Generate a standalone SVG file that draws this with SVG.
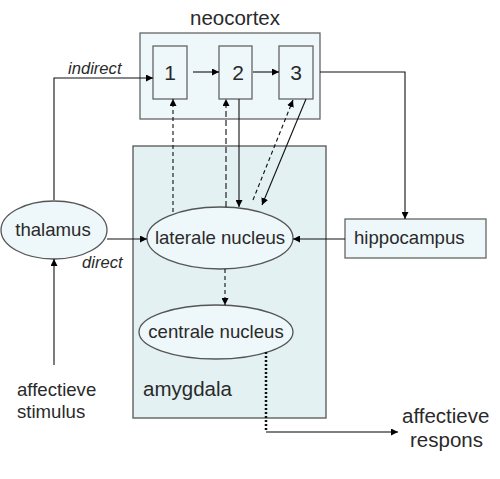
<svg xmlns="http://www.w3.org/2000/svg" width="500" height="479" viewBox="0 0 500 479">
<defs>
<marker id="ah" viewBox="0 0 10 10" refX="10" refY="5" markerWidth="7" markerHeight="7" orient="auto" markerUnits="userSpaceOnUse"><path d="M0,0 L10,5 L0,10 z" fill="#000"/></marker>
</defs>
<style>
text{font-family:"Liberation Sans",Arial,sans-serif;fill:#2a2a2a}
.box{fill:#eef7f9;stroke:#666;stroke-width:1.3}
.amy{fill:#e3f1f3;stroke:#555;stroke-width:1.3}
.ell{fill:#eef7f9;stroke:#555;stroke-width:1.3}
.c{fill:none;stroke:#111;stroke-width:1.1}
.lbl{font-size:18.6px}
.it{font-size:16.6px;font-style:italic}
</style>
<rect width="500" height="479" fill="#fff"/>
<g id="amygdala"><rect class="amy" x="133" y="146" width="193" height="272"/><text x="143" y="396" font-size="20.5">amygdala</text></g>
<g id="neocortex"><rect class="box" x="140" y="33" width="180" height="86"/><text x="235" y="25" font-size="20.5" text-anchor="middle">neocortex</text></g>
<g id="n1"><rect class="box" x="153" y="46" width="34" height="53"/><text x="170" y="80" font-size="21" text-anchor="middle">1</text></g>
<g id="n2"><rect class="box" x="219" y="46" width="33" height="53"/><text x="238" y="80" font-size="21" text-anchor="middle">2</text></g>
<g id="n3"><rect class="box" x="279" y="46" width="34" height="53"/><text x="296" y="80" font-size="21" text-anchor="middle">3</text></g>
<g id="thalamus"><ellipse class="ell" cx="54" cy="230" rx="53" ry="29"/><text class="lbl" x="53" y="236" text-anchor="middle">thalamus</text></g>
<g id="laterale"><ellipse class="ell" cx="220" cy="238" rx="73" ry="31"/><text class="lbl" x="220" y="244" text-anchor="middle">laterale nucleus</text></g>
<g id="centrale"><ellipse class="ell" cx="216" cy="332" rx="77" ry="27"/><text class="lbl" x="216" y="338" text-anchor="middle">centrale nucleus</text></g>
<g id="hippocampus"><rect class="box" x="345" y="219" width="141" height="39"/><text class="lbl" x="354" y="244">hippocampus</text></g>
<g id="stimulus"><text class="lbl" x="17" y="396">affectieve</text><text class="lbl" x="17" y="418">stimulus</text></g>
<g id="respons"><text x="402" y="423" font-size="20.5">affectieve</text><text x="410" y="447" font-size="20.5">respons</text></g>
<g id="connectors">
<path class="c" d="M54,200 V78 H153" marker-end="url(#ah)"/>
<text class="it" x="68" y="74">indirect</text>
<path class="c" d="M107,239 H147" marker-end="url(#ah)"/>
<text class="it" x="82" y="268">direct</text>
<path class="c" d="M54,365 V259" marker-end="url(#ah)"/>
<path class="c" d="M193,72 H219" marker-end="url(#ah)"/>
<path class="c" d="M253,72 H279" marker-end="url(#ah)"/>
<path class="c" d="M320,72 H405 V219" marker-end="url(#ah)"/>
<path class="c" d="M345,239 H293" marker-end="url(#ah)"/>
<path class="c" d="M173,212 V99" stroke-dasharray="4,3" marker-end="url(#ah)"/>
<path class="c" d="M226,207 V99" stroke-dasharray="6,3" marker-end="url(#ah)"/>
<path class="c" d="M239,99 V207" marker-end="url(#ah)"/>
<path class="c" d="M253,200 L293,100" stroke-dasharray="4,3" marker-end="url(#ah)"/>
<path class="c" d="M306,99 L262,205" marker-end="url(#ah)"/>
<path class="c" d="M225,269 V305" stroke-dasharray="4,3" marker-end="url(#ah)"/>
<path d="M266,352 V432" fill="none" stroke="#111" stroke-width="2.5" stroke-dasharray="2,2"/>
<path d="M266,432 H398" fill="none" stroke="#555" stroke-width="1.6" marker-end="url(#ah)"/>
</g>
</svg>
